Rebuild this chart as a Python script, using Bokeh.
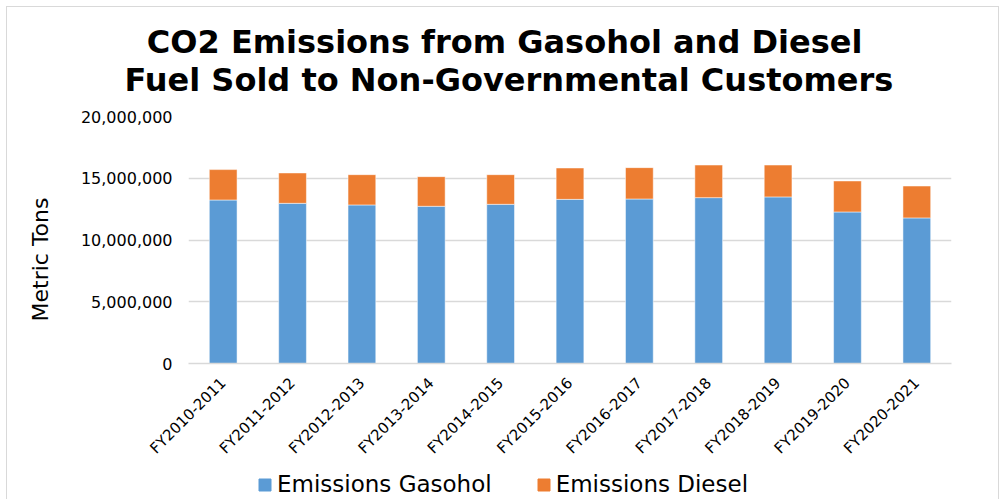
from bokeh.plotting import figure
from bokeh.layouts import column
from bokeh.models import (FactorRange, Legend, LegendItem, Title, NumeralTickFormatter,
                          FixedTicker, InlineStyleSheet)
from bokeh.embed import file_html
from bokeh.resources import INLINE

# Fiscal years and CO2 emissions (metric tons)
years = ["FY2010-2011", "FY2011-2012", "FY2012-2013", "FY2013-2014", "FY2014-2015",
         "FY2015-2016", "FY2016-2017", "FY2017-2018", "FY2018-2019", "FY2019-2020",
         "FY2020-2021"]
gasohol = [13240000, 12970000, 12840000, 12730000, 12890000, 13290000, 13320000,
           13430000, 13490000, 12270000, 11790000]
diesel = [2460000, 2460000, 2450000, 2400000, 2400000, 2540000, 2540000,
          2640000, 2580000, 2510000, 2580000]
y_ticks = [0, 5000000, 10000000, 15000000, 20000000]

series = ["gasohol", "diesel"]
series_labels = ["Emissions Gasohol", "Emissions Diesel"]
colors = ["#5B9BD5", "#ED7D31"]
title_lines = ["CO2 Emissions from Gasohol and Diesel",
               "Fuel Sold to Non-Governmental Customers"]

FONT = "DejaVu Sans"

p = figure(x_range=FactorRange(*years), y_range=(0, 20000000),
           width=1000, height=469, output_backend="svg", toolbar_location=None,
           min_border_left=188, min_border_right=49, min_border_top=116,
           min_border_bottom=106)
p.border_fill_color = "white"
p.outline_line_color = None

data = {"years": years, "gasohol": gasohol, "diesel": diesel}
p.vbar_stack(series, x="years", width=0.4, color=colors,
             line_color="white", line_width=0.5, source=data)

# y axis
p.yaxis.ticker = FixedTicker(ticks=y_ticks)
p.yaxis.formatter = NumeralTickFormatter(format="0,0")
p.yaxis.axis_line_color = None
p.yaxis.major_tick_line_color = None
p.yaxis.minor_tick_line_color = None
p.yaxis.major_label_text_font = FONT
p.yaxis.major_label_text_font_size = "16px"
p.yaxis.major_label_text_color = "#000000"
p.yaxis.major_label_standoff = 10

# x axis
p.xaxis.axis_line_color = "#d9d9d9"
p.xaxis.axis_line_width = 1.5
p.xaxis.major_tick_line_color = None
p.xaxis.minor_tick_line_color = None
p.xaxis.major_label_orientation = 0.785398
p.xaxis.major_label_text_font = FONT
p.xaxis.major_label_text_font_size = "15px"
p.xaxis.major_label_text_color = "#000000"
p.xaxis.major_label_standoff = 11

p.xgrid.grid_line_color = None
p.ygrid.grid_line_color = "#d9d9d9"
p.ygrid.grid_line_width = 1.5

# two-line chart title (first line indented so both lines sit centred)
p.title.text = "\u00a0\u00a0" + title_lines[0] + "\n" + title_lines[1]
p.title.text_font = FONT
p.title.text_font_style = "bold"
p.title.text_font_size = "32px"
p.title.text_line_height = 1.0
p.title.text_color = "#000000"
p.title.align = "left"
p.title.offset = -64
p.title.standoff = 36

# vertical axis title
p.add_layout(Title(text="Metric Tons", text_font=FONT, text_font_size="22px",
                   text_font_style="normal", text_color="#000000", align="left",
                   offset=42, standoff=50), "left")

# legend strip below the chart (its frame lines up with the chart frame)
lf = figure(width=1000, height=30, output_backend="svg", toolbar_location=None,
            x_axis_location=None, y_axis_location=None, min_border=0,
            x_range=(0, 1), y_range=(0, 1))
lf.outline_line_color = None
lf.grid.grid_line_color = None
swatches = [lf.vbar(x=[0.5], top=[1], width=0.1, color=c, visible=False)
            for c in colors]
legend = Legend(items=[LegendItem(label=lab, renderers=[r])
                       for lab, r in zip(series_labels, swatches)],
                orientation="horizontal", location=(69, 2),
                border_line_color=None, background_fill_alpha=0,
                inactive_fill_alpha=0, click_policy="none",
                glyph_width=15, glyph_height=15, label_standoff=5, spacing=44,
                padding=0, margin=0, label_text_font=FONT,
                label_text_font_size="23px", label_text_color="#000000")
lf.add_layout(legend, "center")

page = column(p, lf, spacing=0)
# thin grey frame around the whole chart
page.stylesheets = [InlineStyleSheet(css="""
:host { position: relative; }
:host::after {
  content: ""; position: absolute; left: 6px; top: 6px; right: 1px; bottom: -10px;
  border: 1.5px solid #d9d9d9; z-index: 100; pointer-events: none;
}
""")]

open("out.html", "w").write(file_html(page, INLINE))
